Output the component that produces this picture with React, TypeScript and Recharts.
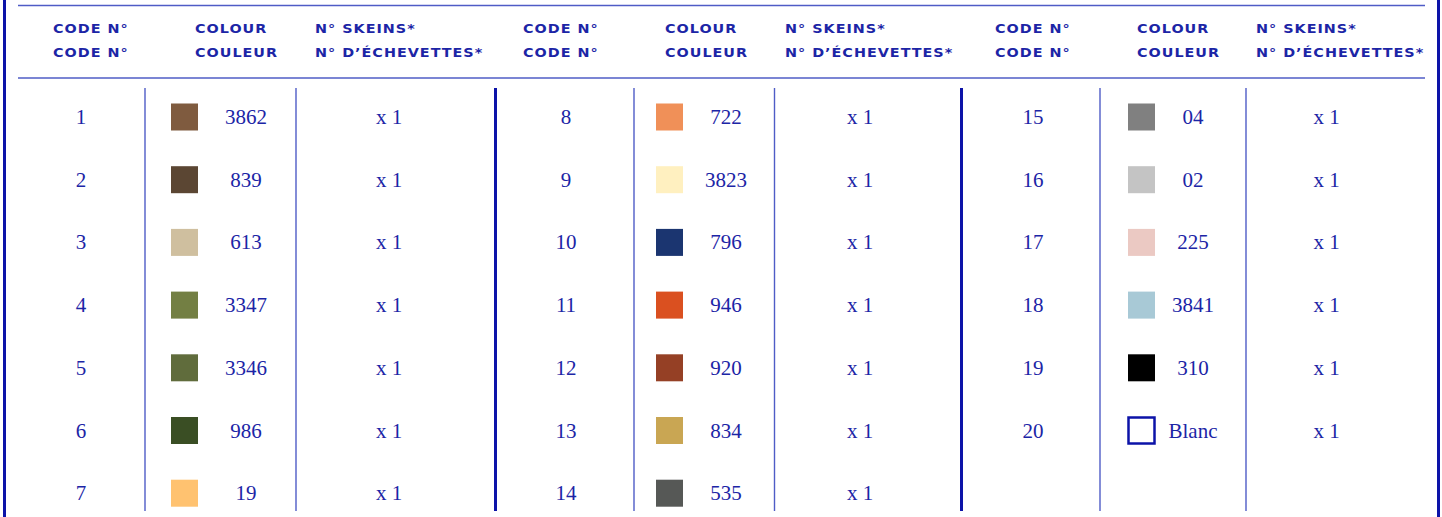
import { ScatterChart, Scatter, XAxis, YAxis, ReferenceLine } from 'recharts';

// thread list
const codeNumbers = [1, 2, 3, 4, 5, 6, 7, 8, 9, 10, 11, 12, 13, 14, 15, 16, 17, 18, 19, 20];
const threadNumbers = ['3862', '839', '613', '3347', '3346', '986', '19', '722', '3823', '796', '946', '920', '834', '535', '04', '02', '225', '3841', '310', 'Blanc'];
const swatchColours = ['#7f5b3f', '#5b4633', '#cfbf9f', '#737f43', '#606c3c', '#3a4e24', '#ffc270', '#f09058', '#fff0c0', '#1b3570', '#da5020', '#954025', '#c9a653', '#565856', '#808080', '#c4c4c4', '#ebc9c3', '#a8c9d6', '#000000', 'none'];
const skeinCounts = [1, 1, 1, 1, 1, 1, 1, 1, 1, 1, 1, 1, 1, 1, 1, 1, 1, 1, 1, 1];
const rowsPerGroup = [7, 7, 6];
const headerLine1 = ['CODE N°', 'COLOUR', 'N° SKEINS*'];
const headerLine2 = ['CODE N°', 'COULEUR', 'N° D’ÉCHEVETTES*'];

const W = 1442;
const H = 517;
const ROW0 = 117;
const ROW_STEP = 62.7;
const toRow = (px: number) => (px - ROW0) / ROW_STEP;

const TEXT = '#1c25a6';
const DARK = '#0c13a8';
const LIGHT = '#4f5cc6';

// column centres for each of the three blocks
const groups = [
    { code: 81, swatch: 184.5, thread: 246, skeins: 389, head: [53, 195, 315], thin: [145, 296] },
    { code: 566, swatch: 669.5, thread: 726, skeins: 860, head: [523, 665, 785], thin: [634, 774.5] },
    { code: 1033, swatch: 1141.5, thread: 1193, skeins: 1326.5, head: [995, 1137, 1256], thin: [1100, 1246] },
];
const thickLines = [495.5, 961.5];

const cells = codeNumbers.map((code, i) => {
    let g = 0;
    let r = i;
    while (r >= rowsPerGroup[g]) {
        r -= rowsPerGroup[g];
        g += 1;
    }
    return { g, r, code, thread: threadNumbers[i], colour: swatchColours[i], skeins: skeinCounts[i] };
});

const codeData = cells.map(c => ({ x: groups[c.g].code, y: c.r, label: String(c.code) }));
const threadData = cells.map(c => ({ x: groups[c.g].thread, y: c.r, label: c.thread }));
const skeinData = cells.map(c => ({ x: groups[c.g].skeins, y: c.r, label: `x ${c.skeins}` }));
const swatchData = cells.map(c => ({ x: groups[c.g].swatch, y: c.r, colour: c.colour }));
const headerData = groups.flatMap(g =>
    g.head.flatMap((hx, k) => [
        { x: hx, y: toRow(33.3), label: headerLine1[k] },
        { x: hx, y: toRow(57), label: headerLine2[k] },
    ])
);

const CellText = (props: any) => (
    <text
        x={props.cx}
        y={props.cy + 7}
        textAnchor="middle"
        fill={TEXT}
        fontFamily="'Liberation Serif', serif"
        fontSize={21}
    >
        {props.payload.label}
    </text>
);

// wide small-caps look: bold sans stretched sideways
const HeaderText = (props: any) => (
    <text
        transform={`translate(${props.cx},${props.cy}) scale(1.25,1)`}
        x={0}
        y={0}
        fill={TEXT}
        fontFamily="'DejaVu Sans', sans-serif"
        fontWeight="bold"
        fontSize={11.5}
        letterSpacing={0.8}
    >
        {props.payload.label}
    </text>
);

const Swatch = (props: any) => {
    const { cx, cy, payload } = props;
    if (payload.colour === 'none') {
        return <rect x={cx - 13} y={cy - 13} width={26} height={26} fill="#fff" stroke={DARK} strokeWidth={2.5} />;
    }
    return <rect x={cx - 13.5} y={cy - 13.5} width={27} height={27} fill={payload.colour} />;
};

export default function App() {
    const top = toRow(88);
    const bottom = toRow(511);
    return (
        <div style={{ position: 'absolute', left: 0, top: 0, width: W, height: H, background: '#fff' }}>
            <ScatterChart width={W} height={H} margin={{ top: 0, right: 0, bottom: 0, left: 0 }}>
                <XAxis type="number" dataKey="x" domain={[0, W]} hide allowDataOverflow />
                <YAxis type="number" dataKey="y" domain={[toRow(0), toRow(H)]} reversed hide allowDataOverflow />

                {/* outer frame and header rules */}
                <ReferenceLine segment={[{ x: 4.5, y: toRow(0) }, { x: 4.5, y: toRow(H) }]} stroke={DARK} strokeWidth={3} />
                <ReferenceLine segment={[{ x: 1438.5, y: toRow(0) }, { x: 1438.5, y: toRow(H) }]} stroke={DARK} strokeWidth={3} />
                <ReferenceLine segment={[{ x: 18, y: toRow(5.5) }, { x: 1425, y: toRow(5.5) }]} stroke={LIGHT} strokeWidth={1.5} />
                <ReferenceLine segment={[{ x: 18, y: toRow(78) }, { x: 1425, y: toRow(78) }]} stroke={LIGHT} strokeWidth={1.5} />

                {thickLines.map(x => (
                    <ReferenceLine key={`k${x}`} segment={[{ x, y: top }, { x, y: bottom }]} stroke={DARK} strokeWidth={3} />
                ))}
                {groups.flatMap(g => g.thin).map(x => (
                    <ReferenceLine key={`t${x}`} segment={[{ x, y: top }, { x, y: bottom }]} stroke={LIGHT} strokeWidth={1.4} />
                ))}

                <Scatter name="header" data={headerData} shape={HeaderText} isAnimationActive={false} />
                <Scatter name="code" data={codeData} shape={CellText} isAnimationActive={false} />
                <Scatter name="swatch" data={swatchData} shape={Swatch} isAnimationActive={false} />
                <Scatter name="thread" data={threadData} shape={CellText} isAnimationActive={false} />
                <Scatter name="skeins" data={skeinData} shape={CellText} isAnimationActive={false} />
            </ScatterChart>
        </div>
    );
}
